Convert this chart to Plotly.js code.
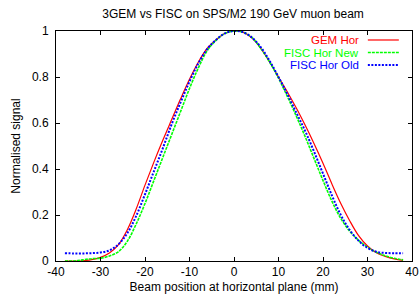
<!DOCTYPE html>
<html>
<head>
<meta charset="utf-8">
<script src="https://cdn.plot.ly/plotly-3.0.1.min.js"></script>
<style>html,body{margin:0;padding:0;background:#fff;}#chart{width:420px;height:303px;}</style>
</head>
<body>
<div id="chart"></div>
<script>
// Beam position (mm)
const xPos = [-38,-36,-34,-32,-30,-28,-26,-24,-22,-20,-18,-16,-14,-12,-10,-8,-6,-4,-2,0,2,4,6,8,10,12,14,16,18,20,22,24,26,28,30,32,34,36,38];
// GEM Hor (red)
const gemHor = [0.0,0.0,0.001,0.006,0.016,0.035,0.07,0.135,0.225,0.33,0.43,0.525,0.615,0.705,0.79,0.865,0.925,0.962,0.99,1.0,0.995,0.97,0.925,0.865,0.80,0.735,0.665,0.59,0.51,0.425,0.335,0.25,0.175,0.11,0.065,0.036,0.02,0.009,0.003];
// FISC Hor New (green)
const fiscNew = [0.0,0.0,0.005,0.01,0.012,0.022,0.04,0.085,0.16,0.25,0.35,0.45,0.55,0.65,0.75,0.84,0.915,0.96,0.99,1.0,0.995,0.972,0.925,0.865,0.795,0.715,0.63,0.54,0.445,0.35,0.26,0.185,0.13,0.09,0.06,0.038,0.023,0.012,0.005];
// FISC Hor Old (blue)
const fiscOld = [0.034,0.033,0.033,0.034,0.037,0.046,0.072,0.12,0.195,0.29,0.39,0.49,0.595,0.69,0.78,0.86,0.922,0.962,0.99,1.0,0.995,0.972,0.93,0.87,0.80,0.725,0.645,0.565,0.475,0.38,0.285,0.20,0.135,0.088,0.057,0.04,0.035,0.034,0.034];
const seriesNames = ["GEM Hor","FISC Hor New","FISC Hor Old"];
const xTicks = [-40,-30,-20,-10,0,10,20,30,40];
const yTicks = [0,0.2,0.4,0.6,0.8,1];

const FONT = "Liberation Sans, Arial, sans-serif";
const traces = [
  {x:xPos, y:gemHor, mode:"lines", line:{color:"#ff0000", width:1.2, shape:"spline"}, name:seriesNames[0], showlegend:false},
  {x:xPos, y:fiscNew, mode:"lines", line:{color:"#00ff00", width:1.6, dash:"3px,1px", shape:"spline"}, name:seriesNames[1], showlegend:false},
  {x:xPos, y:fiscOld, mode:"lines", line:{color:"#0000ff", width:2, dash:"2px,1.5px", shape:"spline"}, name:seriesNames[2], showlegend:false}
];

const legY = [0.9609, 0.9065, 0.8522];
const legCol = ["#ff0000","#00ff00","#0000ff"];
const legDash = ["solid","3px,1px","2px,1.5px"];
const legW = [1.2,1.6,2];
const annotations = [], shapes = [];
for (let i=0;i<3;i++){
  annotations.push({xref:"paper", yref:"paper", x:0.854, y:legY[i], xanchor:"right", yanchor:"middle",
    text:seriesNames[i], showarrow:false, borderpad:0, font:{family:FONT, size:11.5, color:legCol[i]}});
  shapes.push({type:"line", xref:"paper", yref:"paper", x0:0.876, x1:0.963, y0:legY[i], y1:legY[i],
    line:{color:legCol[i], width:legW[i], dash:legDash[i]}});
}

const axisCommon = {showgrid:false, zeroline:false, showline:true, mirror:"ticks", linecolor:"#000", linewidth:1,
  ticks:"inside", ticklen:4, tickcolor:"#000", tickfont:{family:FONT, size:12, color:"#000"}};

const layout = {
  width:420, height:303,
  margin:{l:56, r:8, t:31, b:42},
  paper_bgcolor:"#fff", plot_bgcolor:"#fff",
  font:{family:FONT, size:12, color:"#000"},
  title:{text:"3GEM vs FISC on SPS/M2 190 GeV muon beam", font:{family:FONT, size:12, color:"#000"}, x:0.555, xanchor:"center", y:0.955, yanchor:"middle"},
  xaxis:Object.assign({}, axisCommon, {range:[-40,40], tickvals:xTicks, ticktext:xTicks.map(String),
    title:{text:"Beam position at horizontal plane (mm)", font:{family:FONT, size:12}, standoff:4}}),
  yaxis:Object.assign({}, axisCommon, {range:[0,1], tickvals:yTicks, ticktext:yTicks.map(String), ticklabelstandoff:4,
    title:{text:"Normalised signal", font:{family:FONT, size:12}, standoff:8}}),
  annotations:annotations, shapes:shapes, showlegend:false
};
Plotly.newPlot("chart", traces, layout, {displayModeBar:false, staticPlot:true});
</script>
</body>
</html>
